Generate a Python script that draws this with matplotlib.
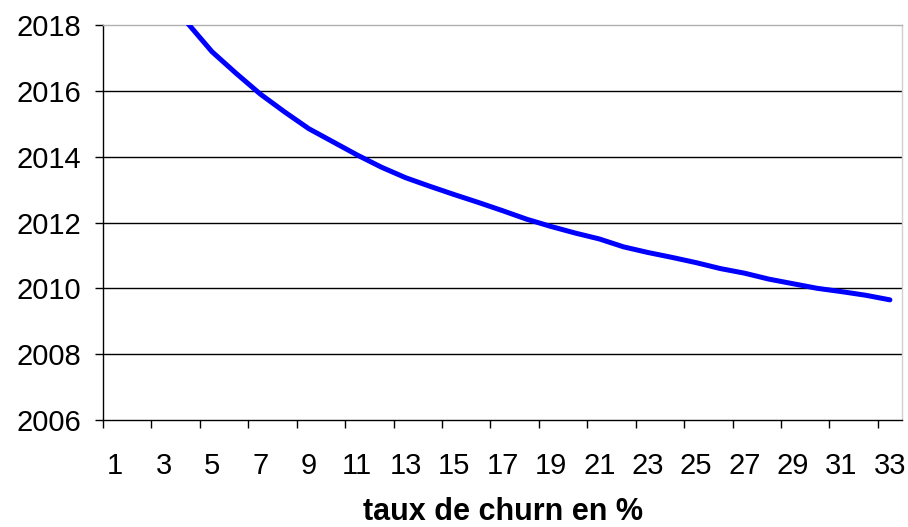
import matplotlib.pyplot as plt

plt.rcParams["font.family"] = ["Liberation Sans", "DejaVu Sans"]

# taux de churn (catégories 1..33) et année correspondante
churn = list(range(1, 34))
annee = [2023.3, 2020.6, 2019.1, 2018.05, 2017.19, 2016.53, 2015.90, 2015.36,
         2014.85, 2014.45, 2014.05, 2013.68, 2013.36, 2013.10, 2012.85,
         2012.61, 2012.36, 2012.10, 2011.88, 2011.68, 2011.50, 2011.26,
         2011.09, 2010.94, 2010.78, 2010.60, 2010.46, 2010.28, 2010.14,
         2010.00, 2009.90, 2009.79, 2009.65]
y_ticks = [2006, 2008, 2010, 2012, 2014, 2016, 2018]
x_labels = [str(c) for c in churn[::2]]

W, H = 908, 527
fig = plt.figure(figsize=(W / 100, H / 100), dpi=100)
ax = fig.add_axes([103 / W, 1 - 420 / H, (902 - 103) / W, (420 - 25) / H])

# grille horizontale noire
for yv in y_ticks[1:-1]:
    ax.axhline(yv, color="black", lw=1.0, zorder=1)

ax.plot(churn, annee, color="#0000FF", lw=3.6, solid_capstyle="round",
        solid_joinstyle="round", zorder=3)

ax.set_xlim(0.5, 33.5)
ax.set_ylim(2006, 2018)

# ticks majeurs aux bords des catégories, étiquettes au centre
ax.set_xticks([c - 0.5 for c in churn[::2]])
ax.set_xticklabels([])
ax.set_xticks(churn[::2], minor=True)
ax.set_xticklabels(x_labels, minor=True)
ax.tick_params(axis="x", which="major", direction="out", length=6, width=1,
               color="black")
ax.tick_params(axis="x", which="minor", length=0, pad=23, labelsize=21)

ax.set_yticks(y_ticks)
ax.tick_params(axis="y", direction="out", length=6, width=1, color="black",
               pad=10, labelsize=21)

ax.spines["left"].set_color("black")
ax.spines["bottom"].set_color("black")
ax.spines["top"].set_color("#b0b0b0")
ax.spines["right"].set_color("#d0d0d0")
for s in ax.spines.values():
    s.set_linewidth(1)

fig.text((103 + 902) / 2 / W, 1 - 520 / H, "taux de churn en %",
         ha="center", va="baseline", fontsize=22, fontweight="bold")

fig.savefig("out.png", dpi=100)
